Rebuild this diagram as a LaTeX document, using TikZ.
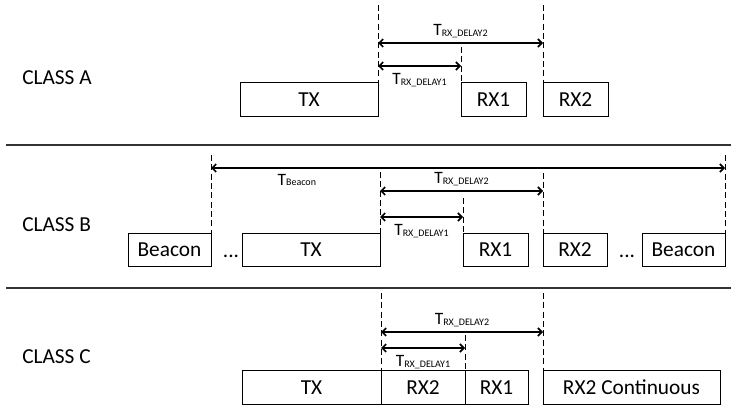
\documentclass[tikz,border=0pt]{standalone}
\usepackage{fontspec}
\setmainfont{Carlito}
\usetikzlibrary{arrows.meta}
\newcommand{\tsub}[1]{T\raisebox{-0.5pt}{\fontsize{7.5}{8}\selectfont #1}}

\begin{document}
\begin{tikzpicture}[x=0.75pt, y=-0.75pt,
        every node/.append style={font=\fontsize{16}{19}\selectfont},
        slot/.style={draw, line width=0.6pt, minimum height=25pt, inner sep=0pt, outer sep=0pt},
        class/.style={anchor=west, inner sep=0pt},
        guide/.style={line width=0.6pt, dash pattern=on 4.5pt off 2.5pt},
        span/.style={<->, >={Straight Barb[length=3pt,width=6pt]}, line width=1.2pt},
        tup/.style={midway, yshift=9pt, font=\fontsize{13}{15}\selectfont},
        tdown/.style={midway, yshift=-10.5pt, font=\fontsize{13}{15}\selectfont},
        divider/.style={line width=1.5pt, black!80}]
      \useasboundingbox (0,0) rectangle (731,406);
      \coordinate (sepAl) at (6,145);
      \coordinate (sepAr) at (731,145);
      \coordinate (sepBl) at (6,288);
      \coordinate (sepBr) at (731,288);
      \draw[divider] (sepAl) -- (sepAr);
      \draw[divider] (sepBl) -- (sepBr);

      \node (classA) [class] at (22,78) {CLASS A};
      \node (txA) [slot, minimum width=103.5pt] at (309,99.5) {TX};
      \node (rxoneA) [slot, minimum width=48.75pt] at (493.5,99.5) {RX1};
      \node (rxtwoA) [slot, minimum width=48.75pt] at (575.5,99.5) {RX2};
      \coordinate (gA1) at (378,5);
      \coordinate (gA2) at (461,47);
      \coordinate (gA3) at (543,5);
      \draw[guide] (gA1) -- (txA.north east);
      \draw[guide] (gA2) -- (rxoneA.north west);
      \draw[guide] (gA3) -- (rxtwoA.north west);
      \draw[span] (gA1 |- 0,43) -- (gA3 |- 0,43) node[tup] {\tsub{RX\_DELAY2}};
      \draw[span] (gA1 |- 0,66) -- (gA2 |- 0,66) node[tdown] {\tsub{RX\_DELAY1}};

      \node (classB) [class] at (22,225) {CLASS B};
      \node (beaconB1) [slot, minimum width=62.25pt] at (169.5,250) {Beacon};
      \node (dotsB1) [anchor=base] at (231,257) {...};
      \node (txB) [slot, minimum width=103.5pt] at (311,250) {TX};
      \node (rxoneB) [slot, minimum width=48.75pt] at (495.5,250) {RX1};
      \node (rxtwoB) [slot, minimum width=48pt] at (575,250) {RX2};
      \node (dotsB2) [anchor=base] at (627,257) {...};
      \node (beaconB2) [slot, minimum width=62.25pt] at (683.5,250) {Beacon};
      \coordinate (gB0) at (211,155);
      \coordinate (gB1) at (380,172);
      \coordinate (gB2) at (463,198);
      \coordinate (gB3) at (543,173);
      \coordinate (gB4) at (725,155);
      \draw[guide] (gB0) -- (beaconB1.north east);
      \draw[guide] (gB1) -- (txB.north east);
      \draw[guide] (gB2) -- (rxoneB.north west);
      \draw[guide] (gB3) -- (rxtwoB.north west);
      \draw[guide] (gB4) -- (beaconB2.north east);
      \draw[span] (gB0 |- 0,168) -- (gB4 |- 0,168)
        node[pos=0.167, yshift=-9pt, font=\fontsize{13}{15}\selectfont] {\tsub{Beacon}};
      \draw[span] (gB1 |- 0,191) -- (gB3 |- 0,191) node[tup] {\tsub{RX\_DELAY2}};
      \draw[span] (gB1 |- 0,217) -- (gB2 |- 0,217) node[tdown] {\tsub{RX\_DELAY1}};

      \node (classC) [class] at (22,357) {CLASS C};
      \node (txC) [slot, minimum width=104.25pt] at (311.5,387.5) {TX};
      \node (rxtwoC) [slot, minimum width=63pt] at (423,387.5) {RX2};
      \node (rxoneC) [slot, minimum width=47.25pt] at (496.5,387.5) {RX1};
      \node (rxcontC) [slot, minimum width=132.75pt] at (631.5,387.5) {RX2 Continuous};
      \coordinate (gC1) at (381,293);
      \coordinate (gC2) at (465,335);
      \coordinate (gC3) at (543,293);
      \draw[guide] (gC1) -- (txC.north east);
      \draw[guide] (gC2) -- (rxoneC.north west);
      \draw[guide] (gC3) -- (rxcontC.north west);
      \draw[span] (gC1 |- 0,332) -- (gC3 |- 0,332) node[tup] {\tsub{RX\_DELAY2}};
      \draw[span] (gC1 |- 0,348) -- (gC2 |- 0,348) node[tdown] {\tsub{RX\_DELAY1}};
\end{tikzpicture}
\end{document}
